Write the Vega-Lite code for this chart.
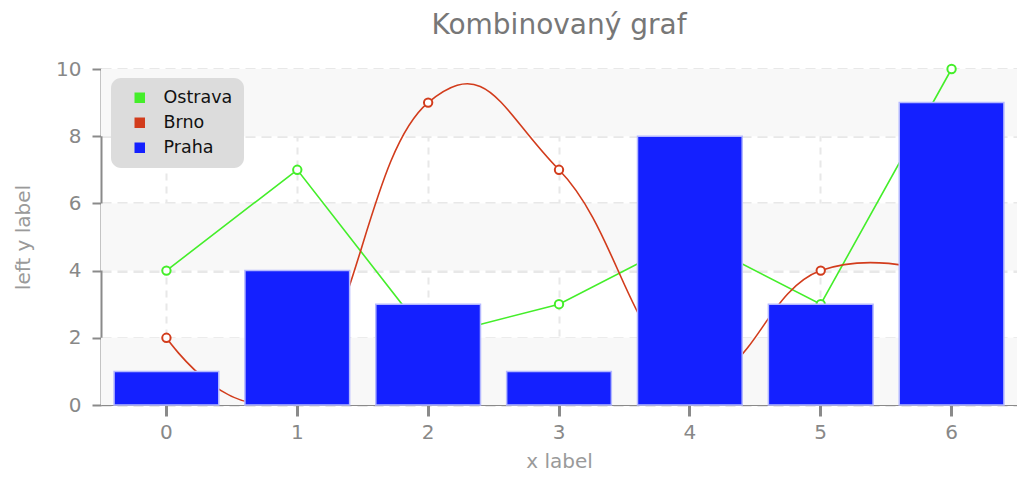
{
  "$schema": "https://vega.github.io/schema/vega-lite/v6.json",
  "width": 916,
  "height": 336,
  "autosize": {"type": "none"},
  "padding": {"left": 101, "top": 69, "right": 0, "bottom": 75},
  "background": "white",
  "title": {"text": "Kombinovaný graf", "fontSize": 28, "font": "DejaVu Sans", "fontWeight": "normal", "color": "#777777", "offset": 19, "anchor": "middle"},
  "config": {
    "view": {"stroke": null},
    "font": "DejaVu Sans",
    "axis": {"labelColor": "#888888", "titleColor": "#9a9a9a", "labelFontSize": 20, "titleFontSize": 20, "titleFontWeight": "normal", "domainColor": "#8a8a8a", "tickColor": "#8a8a8a", "gridColor": "#e8e8e8"},
    "legend": {"orient": "none", "legendX": 10, "legendY": 9, "fillColor": "#dcdcdc", "cornerRadius": 10, "padding": 11, "symbolOffset": 9, "symbolType": "square", "symbolSize": 110, "symbolStrokeWidth": 0, "labelFontSize": 17.5, "labelColor": "#111111", "labelOffset": 15, "rowPadding": 6, "title": null}
  },
  "data": {"name": "main", "values": [
      {"x": 0, "series": "Praha", "value": 1},
      {"x": 1, "series": "Praha", "value": 4},
      {"x": 2, "series": "Praha", "value": 3},
      {"x": 3, "series": "Praha", "value": 1},
      {"x": 4, "series": "Praha", "value": 8},
      {"x": 5, "series": "Praha", "value": 3},
      {"x": 6, "series": "Praha", "value": 9},
      {"x": 0, "series": "Ostrava", "value": 4},
      {"x": 1, "series": "Ostrava", "value": 7},
      {"x": 2, "series": "Ostrava", "value": 2},
      {"x": 3, "series": "Ostrava", "value": 3},
      {"x": 4, "series": "Ostrava", "value": 5},
      {"x": 5, "series": "Ostrava", "value": 3},
      {"x": 6, "series": "Ostrava", "value": 10},
      {"x": 0, "series": "Brno", "value": 2},
      {"x": 1, "series": "Brno", "value": 0.5},
      {"x": 2, "series": "Brno", "value": 9},
      {"x": 3, "series": "Brno", "value": 7},
      {"x": 4, "series": "Brno", "value": 1},
      {"x": 5, "series": "Brno", "value": 4},
      {"x": 6, "series": "Brno", "value": 3.8}
  ]},
  "layer": [
    {
      "data": {"values": [
        {"lo": 0, "hi": 2},
        {"lo": 4, "hi": 6},
        {"lo": 8, "hi": 10}
      ]},
      "mark": {"type": "rect", "color": "#f8f8f8"},
      "encoding": {
        "y": {"field": "lo", "type": "quantitative", "title": "left y label", "scale": {"domain": [0, 10], "nice": false}},
        "y2": {"field": "hi"}
      }
    },
    {
      "mark": {"type": "rule", "opacity": 0},
      "encoding": {
        "x": {"field": "x", "type": "ordinal", "title": "x label", "scale": {"paddingInner": 0.2, "paddingOuter": 0.1},
              "axis": {"labelAngle": 0, "bandPosition": 0.5, "grid": true, "gridDash": [7, 6], "gridWidth": 2, "tickSize": 11, "tickWidth": 3, "labelPadding": 6, "titlePadding": 9, "domainWidth": 1}},
        "y": {"field": "value", "type": "quantitative", "title": "left y label",
              "axis": {"values": [0, 2, 4, 6, 8, 10], "grid": true, "gridDash": [10, 6], "gridWidth": 3, "tickSize": 9, "tickWidth": 2, "labelPadding": 11, "titlePadding": 22, "domainWidth": 2}}
      }
    },
    {
      "transform": [{"filter": "datum.series === 'Ostrava'"}],
      "mark": {"type": "line", "strokeWidth": 1.6},
      "encoding": {
        "x": {"field": "x", "type": "ordinal", "title": "x label"},
        "y": {"field": "value", "type": "quantitative", "title": "left y label"},
        "color": {"field": "series", "type": "nominal"}
      }
    },
    {
      "transform": [{"filter": "datum.series === 'Brno'"}],
      "mark": {"type": "line", "strokeWidth": 1.6, "interpolate": "cardinal", "tension": -0.35},
      "encoding": {
        "x": {"field": "x", "type": "ordinal", "title": "x label"},
        "y": {"field": "value", "type": "quantitative", "title": "left y label"},
        "color": {"field": "series", "type": "nominal"}
      }
    },
    {
      "transform": [{"filter": "datum.series !== 'Praha'"}],
      "mark": {"type": "point", "shape": "circle", "filled": false, "fill": "white", "size": 70, "strokeWidth": 2, "opacity": 1},
      "encoding": {
        "x": {"field": "x", "type": "ordinal", "title": "x label"},
        "y": {"field": "value", "type": "quantitative", "title": "left y label"},
        "color": {"field": "series", "type": "nominal"}
      }
    },
    {
      "transform": [{"filter": "datum.series === 'Praha'"}],
      "mark": {"type": "bar", "stroke": "#b4b8ff", "strokeWidth": 1.5},
      "encoding": {
        "x": {"field": "x", "type": "ordinal", "title": "x label"},
        "y": {"field": "value", "type": "quantitative", "title": "left y label"},
        "color": {"field": "series", "type": "nominal",
                  "scale": {"domain": ["Ostrava", "Brno", "Praha"], "range": ["#44ee2a", "#d23c1c", "#1420ff"]},
                  "legend": {"encode": {"symbols": {"update": {"fill": {"scale": "color", "field": "value"}, "shape": {"value": "square"}, "stroke": {"value": "transparent"}, "opacity": {"value": 1}}}}}}
      }
    }
  ]
}
